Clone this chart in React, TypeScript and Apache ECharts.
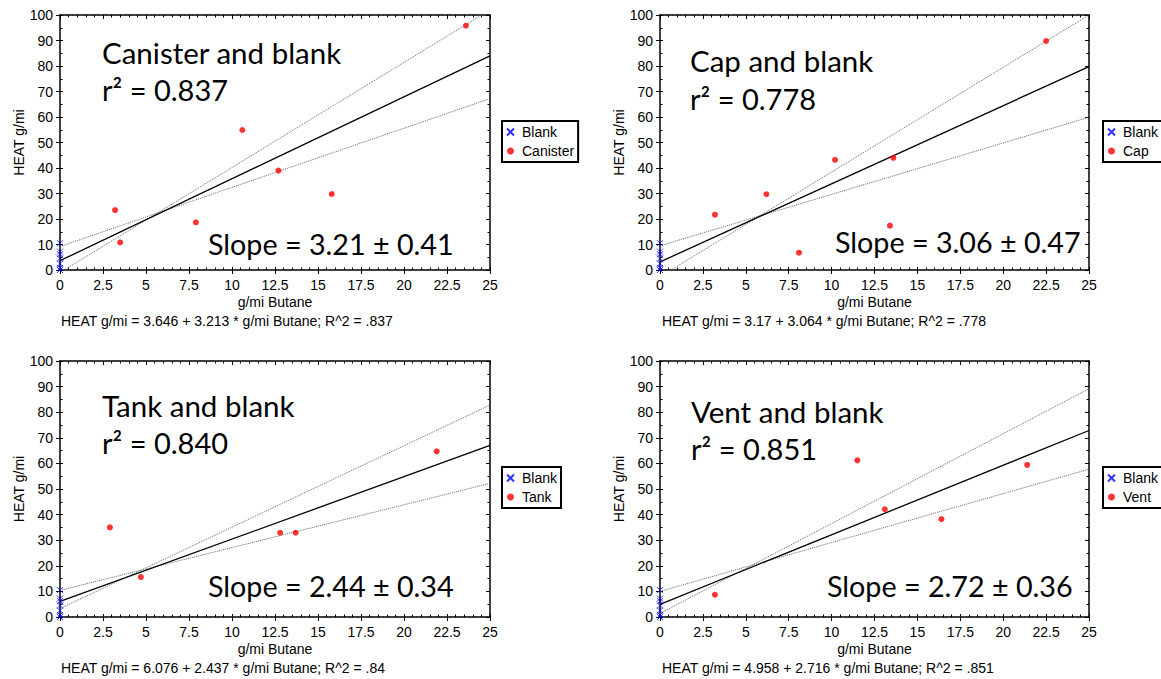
import React, { useEffect, useRef } from "react";
import * as echarts from "echarts";

// ---------- data ----------
const X_MIN = 0;
const X_MAX = 25;
const X_STEP = 2.5;
const Y_MIN = 0;
const Y_MAX = 100;
const Y_STEP = 10;

const panelNames = ["Canister", "Cap", "Tank", "Vent"];
const panelTitles = ["Canister and blank", "Cap and blank", "Tank and blank", "Vent and blank"];
const r2Labels = ["r² = 0.837", "r² = 0.778", "r² = 0.840", "r² = 0.851"];
const slopeLabels = ["Slope = 3.21 ± 0.41", "Slope = 3.06 ± 0.47", "Slope = 2.44 ± 0.34", "Slope = 2.72 ± 0.36"];
const equationLabels = [
  "HEAT g/mi = 3.646 + 3.213 * g/mi Butane; R^2 = .837",
  "HEAT g/mi = 3.17 + 3.064 * g/mi Butane; R^2 = .778",
  "HEAT g/mi = 6.076 + 2.437 * g/mi Butane; R^2 = .84",
  "HEAT g/mi = 4.958 + 2.716 * g/mi Butane; R^2 = .851",
];

// blank tests (same in every panel)
const blankX = [0, 0, 0, 0, 0, 0, 0];
const blankY = [0, 0.8, 2.5, 4.5, 6.2, 7.2, 10.5];

const canisterX = [3.2, 3.5, 7.9, 10.6, 12.7, 15.8, 23.6];
const canisterY = [23.5, 10.8, 18.7, 54.9, 39.0, 29.8, 95.8];
const capX = [3.2, 6.2, 8.1, 10.2, 13.4, 13.6, 22.5];
const capY = [21.7, 29.7, 6.8, 43.2, 17.4, 44.0, 89.8];
const tankX = [2.9, 4.7, 12.8, 13.7, 21.9];
const tankY = [35.0, 15.6, 32.9, 32.9, 64.7];
const ventX = [3.2, 11.5, 13.1, 16.4, 21.4];
const ventY = [8.7, 61.2, 42.1, 38.2, 59.4];

const sampleX = [canisterX, capX, tankX, ventX];
const sampleY = [canisterY, capY, tankY, ventY];

// regression fits (from the printed equations)
const fitIntercept = [3.646, 3.17, 6.076, 4.958];
const fitSlope = [3.213, 3.064, 2.437, 2.716];
// dotted confidence lines
const upperIntercept = [-1.0, -2.63, 3.3, 1.4];
const upperSlope = [4.12, 4.105, 3.18, 3.51];
const lowerIntercept = [9.2, 9.5, 10.4, 10.0];
const lowerSlope = [2.32, 2.016, 1.672, 1.91];

// ---------- layout ----------
const grids = [
  { left: 60, top: 15, width: 430, height: 255 },
  { left: 660, top: 15, width: 429, height: 255 },
  { left: 60, top: 361, width: 430, height: 256 },
  { left: 660, top: 361, width: 429, height: 256 },
];
const legendPos = [
  { left: 502, top: 121 },
  { left: 1103, top: 121 },
  { left: 502, top: 467 },
  { left: 1103, top: 467 },
];
const titlePos = [
  { x: 102, title: 52, r2: 89, slopeX: 208, slope: 244 },
  { x: 690, title: 60, r2: 98, slopeX: 835, slope: 242 },
  { x: 102, title: 405, r2: 442, slopeX: 208, slope: 586 },
  { x: 691, title: 411, r2: 448, slopeX: 827, slope: 586 },
];
const eqPos = [
  { x: 61, y: 321 },
  { x: 662, y: 321 },
  { x: 61, y: 668 },
  { x: 662, y: 668 },
];

const SANS = "'Liberation Sans', Arial, sans-serif";
const BIG = "Lato, 'Open Sans', sans-serif";
const CROSS = "path://M0,0L10,10M0,10L10,0";

function lineData(a: number, b: number) {
  return [
    [X_MIN, a + b * X_MIN],
    [X_MAX, a + b * X_MAX],
  ];
}

function buildOption() {
  const xAxis: any[] = [];
  const yAxis: any[] = [];
  const series: any[] = [];
  const legend: any[] = [];
  const graphic: any[] = [];

  for (let k = 0; k < 4; k++) {
    const common = { gridIndex: k, type: "value", splitLine: { show: false } };
    // labelled bottom axis
    xAxis.push({
      ...common,
      min: X_MIN,
      max: X_MAX,
      interval: X_STEP,
      position: "bottom",
      name: "g/mi Butane",
      nameLocation: "middle",
      nameGap: 25,
      nameTextStyle: { fontFamily: SANS, fontSize: 14, color: "#000" },
      axisLine: { show: true, onZero: false, lineStyle: { color: "#000", width: 1.5 } },
      axisTick: { show: true, length: 4, lineStyle: { color: "#000" } },
      minorTick: { show: false },
      axisLabel: { fontFamily: SANS, fontSize: 14, color: "#000", margin: 8 },
    });
    // top mirror
    xAxis.push({
      ...common,
      min: X_MIN,
      max: X_MAX,
      interval: X_STEP,
      position: "top",
      axisLine: { show: true, onZero: false, lineStyle: { color: "#000", width: 1.5 } },
      axisTick: { show: true, inside: true, length: 4, lineStyle: { color: "#000" } },
      minorTick: { show: true, splitNumber: 5, length: 2.5, lineStyle: { color: "#000" } },
      axisLabel: { show: false },
    });
    // bottom inner minor ticks
    xAxis.push({
      ...common,
      min: X_MIN,
      max: X_MAX,
      interval: X_STEP,
      position: "bottom",
      axisLine: { show: false, onZero: false },
      axisTick: { show: true, inside: true, length: 3, lineStyle: { color: "#000" } },
      minorTick: { show: true, splitNumber: 5, length: 2.5, lineStyle: { color: "#000" } },
      axisLabel: { show: false },
    });

    yAxis.push({
      ...common,
      min: Y_MIN,
      max: Y_MAX,
      interval: Y_STEP,
      position: "left",
      name: "HEAT g/mi",
      nameLocation: "middle",
      nameGap: 34,
      nameTextStyle: { fontFamily: SANS, fontSize: 14, color: "#000" },
      axisLine: { show: true, onZero: false, lineStyle: { color: "#000", width: 1.5 } },
      axisTick: { show: true, length: 4, lineStyle: { color: "#000" } },
      minorTick: { show: false },
      axisLabel: { fontFamily: SANS, fontSize: 14, color: "#000", margin: 7 },
    });
    yAxis.push({
      ...common,
      min: Y_MIN,
      max: Y_MAX,
      interval: Y_STEP,
      position: "right",
      axisLine: { show: true, onZero: false, lineStyle: { color: "#000", width: 1.5 } },
      axisTick: { show: true, inside: true, length: 4, lineStyle: { color: "#000" } },
      minorTick: { show: true, splitNumber: 2, length: 2.5, lineStyle: { color: "#000" } },
      axisLabel: { show: false },
    });
    yAxis.push({
      ...common,
      min: Y_MIN,
      max: Y_MAX,
      interval: Y_STEP,
      position: "left",
      axisLine: { show: false, onZero: false },
      axisTick: { show: true, inside: true, length: 3, lineStyle: { color: "#000" } },
      minorTick: { show: true, splitNumber: 2, length: 2.5, lineStyle: { color: "#000" } },
      axisLabel: { show: false },
    });

    const xi = 3 * k;
    const yi = 3 * k;
    const lineBase = {
      type: "line",
      xAxisIndex: xi,
      yAxisIndex: yi,
      symbol: "none",
      silent: true,
      clip: true,
      z: 2,
    };
    series.push({
      ...lineBase,
      name: "upper" + k,
      data: lineData(upperIntercept[k], upperSlope[k]),
      lineStyle: { color: "#666", width: 1, type: "dotted" },
    });
    series.push({
      ...lineBase,
      name: "lower" + k,
      data: lineData(lowerIntercept[k], lowerSlope[k]),
      lineStyle: { color: "#666", width: 1, type: "dotted" },
    });
    series.push({
      ...lineBase,
      name: "fit" + k,
      data: lineData(fitIntercept[k], fitSlope[k]),
      lineStyle: { color: "#000", width: 1.3 },
    });
    series.push({
      type: "scatter",
      name: panelNames[k],
      xAxisIndex: xi,
      yAxisIndex: yi,
      symbol: "circle",
      symbolSize: 6,
      itemStyle: { color: "#ff0000" },
      data: sampleX[k].map((x, i) => [x, sampleY[k][i]]),
      z: 3,
    });
    series.push({
      type: "scatter",
      name: "Blank",
      xAxisIndex: xi,
      yAxisIndex: yi,
      symbol: CROSS,
      symbolSize: 6,
      clip: false,
      itemStyle: { color: "#0000ff", borderColor: "#0000ff", borderWidth: 1 },
      data: blankX.map((x, i) => [x, blankY[i]]),
      z: 4,
    });

    legend.push({
      left: legendPos[k].left,
      top: legendPos[k].top,
      orient: "vertical",
      data: ["Blank", panelNames[k]],
      selectedMode: false,
      backgroundColor: "#fff",
      borderColor: "#000",
      borderWidth: 2,
      borderRadius: 0,
      padding: [4, 4, 4, 4],
      itemGap: 5,
      itemWidth: 13,
      itemHeight: 7,
      textStyle: { fontFamily: SANS, fontSize: 14, color: "#000" },
    });

    const tp = titlePos[k];
    const bigStyle = { fontFamily: BIG, fill: "#000", verticalAlign: "middle", align: "left" };
    graphic.push({ type: "text", x: tp.x, y: tp.title, silent: true, style: { ...bigStyle, fontSize: 29.5, text: panelTitles[k] } });
    graphic.push({ type: "text", x: tp.x, y: tp.r2, silent: true, style: { ...bigStyle, fontSize: 29, text: r2Labels[k] } });
    graphic.push({ type: "text", x: tp.slopeX, y: tp.slope, silent: true, style: { ...bigStyle, fontSize: 28.7, text: slopeLabels[k] } });
    graphic.push({
      type: "text",
      x: eqPos[k].x,
      y: eqPos[k].y,
      silent: true,
      style: { text: equationLabels[k], fontFamily: SANS, fontSize: 14, fill: "#000", verticalAlign: "middle", align: "left" },
    });
  }

  return {
    animation: false,
    backgroundColor: "#fff",
    grid: grids.map((g) => ({ ...g, containLabel: false })),
    xAxis,
    yAxis,
    legend,
    series,
    graphic,
  };
}

export default function App() {
  const ref = useRef<HTMLDivElement>(null);
  useEffect(() => {
    document.body.style.margin = "0";
    if (!ref.current) return;
    const chart = echarts.init(ref.current, null, { renderer: "svg" });
    chart.setOption(buildOption() as any);
    return () => chart.dispose();
  }, []);
  return <div ref={ref} style={{ width: 1161, height: 679, background: "#fff" }} />;
}
